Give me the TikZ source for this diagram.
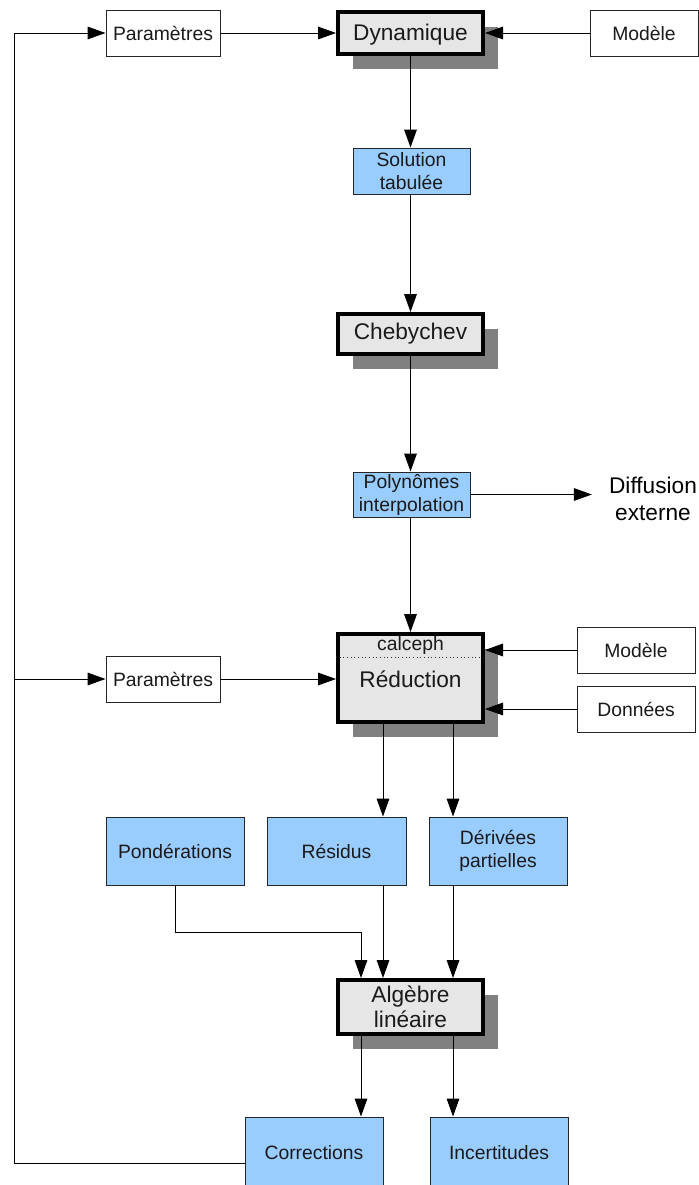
\documentclass[tikz,border=0pt]{standalone}
\usepackage{fontspec}
\setmainfont{Liberation Sans}
\usetikzlibrary{arrows.meta,shadows}
\definecolor{blueb}{HTML}{99CCFF}
\definecolor{greyb}{HTML}{E6E6E6}
\definecolor{shadowc}{HTML}{808080}
\definecolor{txt}{HTML}{1A1A1A}
\begin{document}
\begin{tikzpicture}[x=0.75pt,y=-0.75pt,
 every node/.style={font=\fontsize{14.5}{17.25}\selectfont, text=txt, align=center, inner sep=0pt},
 wbox/.style={draw=black!85, line width=0.75pt, fill=white, minimum height=34.5pt},
 bbox/.style={draw=black!85, line width=0.75pt, fill=blueb},
 gbox/.style={draw=black, line width=3pt, fill=greyb, font=\fontsize{17}{19}\selectfont,
   drop shadow={shadow xshift=11pt, shadow yshift=-11pt, fill=shadowc, opacity=1}},
 arr/.style={draw=black, line width=0.75pt, -{Triangle[length=13.5pt,width=9.5pt]}},
 ln/.style={draw=black, line width=0.75pt}]
\useasboundingbox (0,0) rectangle (699,1185);

% nodes
\node[wbox, minimum width=85.5pt] (par1) at (163,33) {Paramètres};
\node[gbox, minimum width=108.75pt, minimum height=31.5pt] (dyn) at (410.5,33) {};
\node[font=\fontsize{17}{19}\selectfont] (dynt) at (410.5,34.5) {Dynamique};
\node[wbox, minimum width=81pt] (mod1) at (644,33) {Modèle};
\node[bbox, minimum width=87.75pt, minimum height=34.5pt] (sol) at (411.5,171) {Solution\\tabulée};
\node[gbox, minimum width=108.75pt, minimum height=30pt] (cheb) at (410.5,334) {};
\node[font=\fontsize{17}{19}\selectfont] (chebt) at (410.5,334) {Chebychev};
\node[bbox, minimum width=87.75pt, minimum height=33.75pt] (poly) at (411.5,494.5) {Polynômes\\interpolation};
\node[font=\fontsize{17}{20.25}\selectfont, inner xsep=12.75pt, text=black] (diff) at (653,498.5) {Diffusion\\externe};

\node[gbox, minimum width=108.75pt, minimum height=66pt] (red) at (410.5,678) {};
\node (calc) at (410.5,645) {calceph};
\node[font=\fontsize{17}{19}\selectfont] (redt) at (410.5,679) {Réduction};
\coordinate (dl) at (0,657);
\draw[black!80, line width=0.75pt, dotted] (red.west |- dl) -- (red.east |- dl);

\node[wbox, minimum width=88.5pt] (mod2) at (636,650) {Modèle};
\node[wbox, minimum width=88.5pt] (don) at (636,709) {Données};
\node[wbox, minimum width=85.5pt] (par2) at (163,679) {Paramètres};

\node[bbox, minimum width=103.5pt, minimum height=51pt] (pond) at (175,851) {Pondérations};
\node[bbox, minimum width=104.25pt, minimum height=51pt] (res) at (336.5,851) {Résidus};
\node[bbox, minimum width=103.5pt, minimum height=51pt] (der) at (498,851) {Dérivées\\partielles};

\node[gbox, minimum width=108.75pt, minimum height=40.5pt] (alg) at (410.5,1007) {Algèbre\\linéaire};

\node[bbox, minimum width=103.5pt, minimum height=54pt] (cor) at (314,1153) {Corrections};
\node[bbox, minimum width=103.5pt, minimum height=54pt] (inc) at (499,1153) {Incertitudes};

% helper coordinates
\coordinate (xa) at (383,0);
\coordinate (xb) at (453,0);
\coordinate (c1) at (361,932);
\coordinate (loopb) at (14,1163);
\coordinate (loopt) at (14,33);

% connectors
\draw[arr] (par1.east) -- (dyn.west);
\draw[arr] (mod1.west) -- (dyn.east);
\draw[arr] (dyn.south) -- (dyn.south |- sol.north);
\draw[arr] (sol.south -| dyn.south) -- (cheb.north);
\draw[arr] (cheb.south) -- (cheb.south |- poly.north);
\draw[arr] (poly.east) -- (poly.east -| diff.west);
\draw[arr] (poly.south -| red.north) -- (red.north);
\draw[arr] (mod2.west) -- (mod2.west -| red.east);
\draw[arr] (don.west) -- (don.west -| red.east);
\draw[arr] (par2.east) -- (par2.east -| red.west);
\draw[arr] (red.south -| xa) -- (res.north -| xa);
\draw[arr] (red.south -| xb) -- (der.north -| xb);
\draw[arr] (pond.south) |- (c1) -- (c1 |- alg.north);
\draw[arr] (res.south -| xa) -- (alg.north -| xa);
\draw[arr] (der.south -| xb) -- (alg.north -| xb);
\draw[arr] (alg.south -| c1) -- (cor.north -| c1);
\draw[arr] (alg.south -| xb) -- (inc.north -| xb);
\draw[arr] (cor.west |- loopb) -- (loopb) -- (loopt) -- (par1.west);
\draw[arr] (loopb |- par2.west) -- (par2.west);
\end{tikzpicture}
\end{document}
